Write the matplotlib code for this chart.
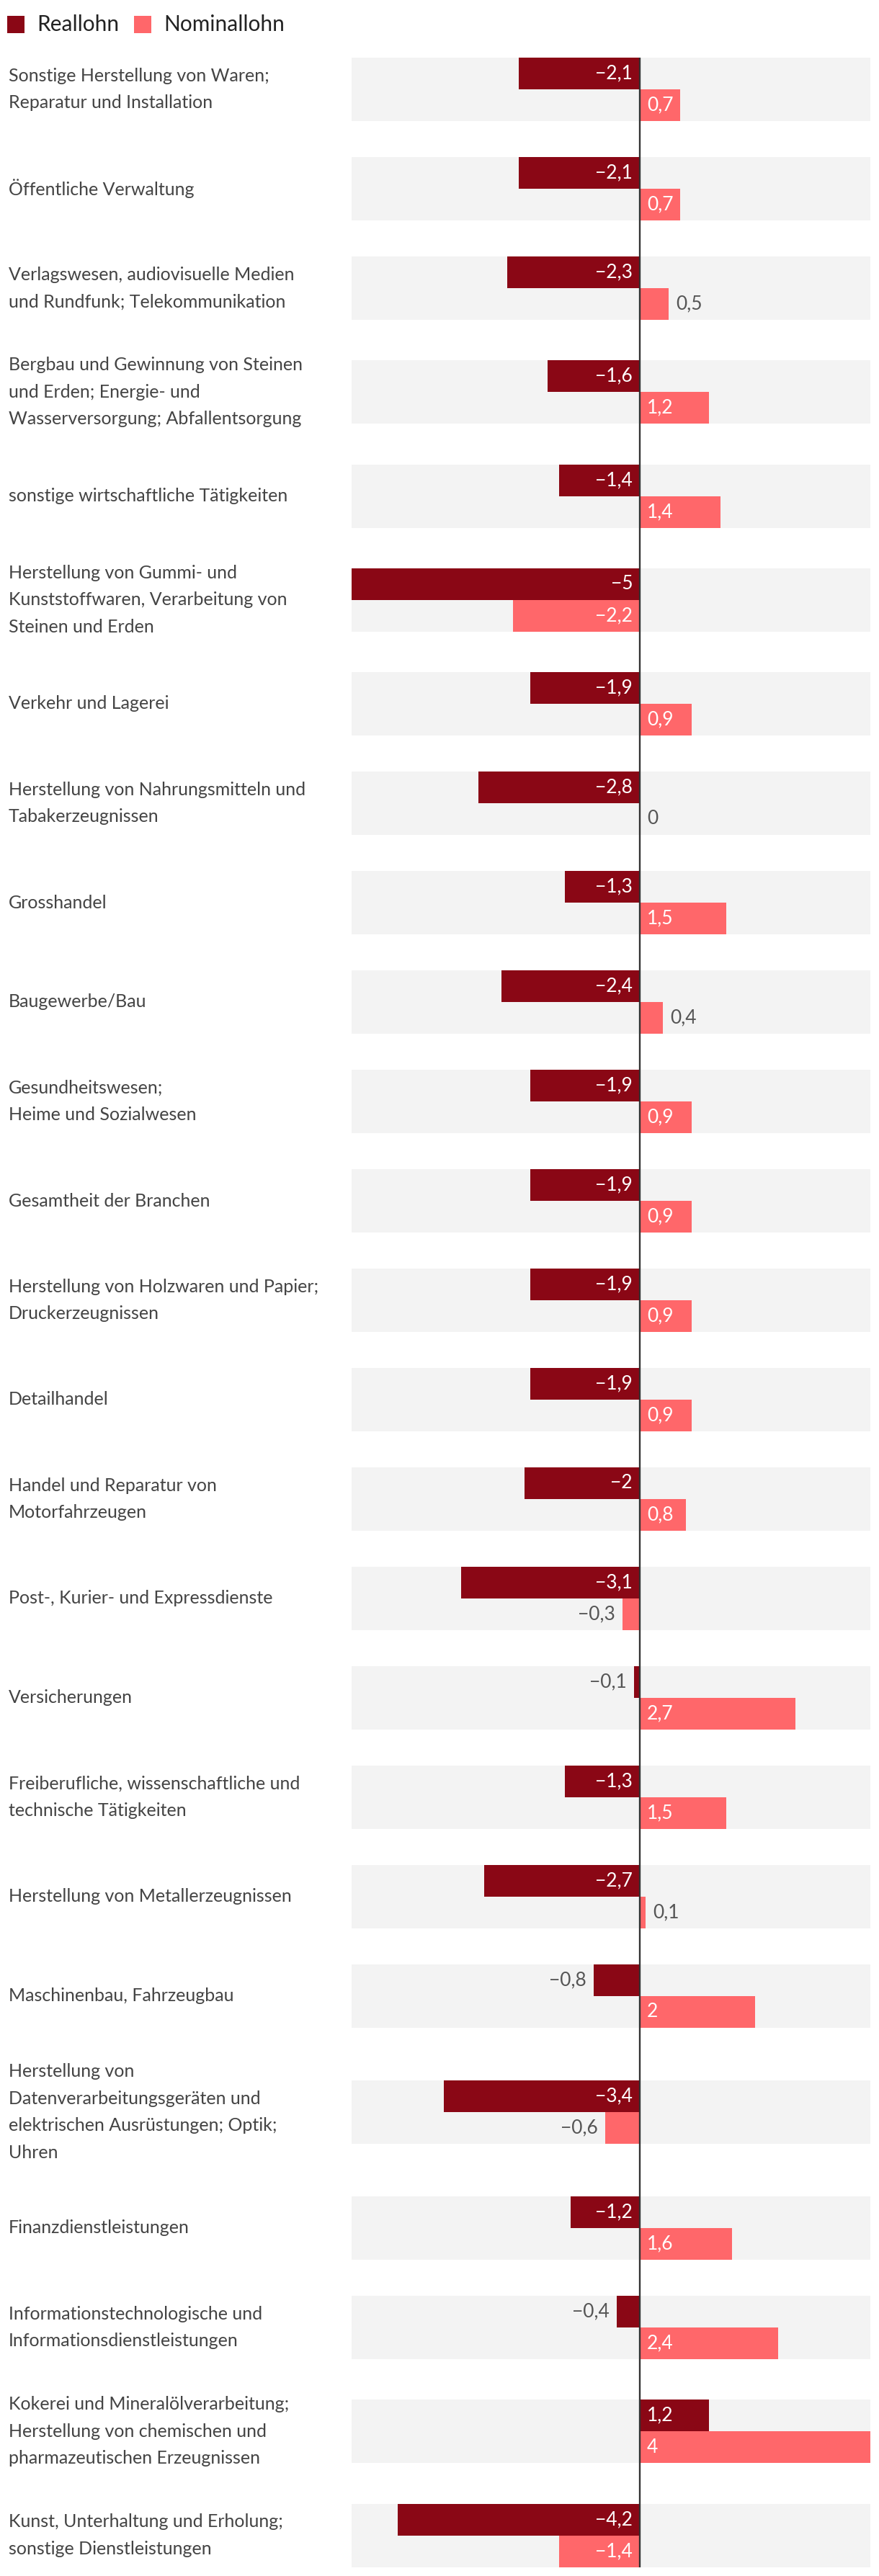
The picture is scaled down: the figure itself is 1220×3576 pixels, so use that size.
import matplotlib
matplotlib.use("Agg")
import matplotlib.pyplot as plt
from matplotlib.patches import Rectangle
from matplotlib.font_manager import FontProperties

# ---------------- data ----------------
categories = [
    "Sonstige Herstellung von Waren;\nReparatur und Installation",
    "Öffentliche Verwaltung",
    "Verlagswesen, audiovisuelle Medien\nund Rundfunk; Telekommunikation",
    "Bergbau und Gewinnung von Steinen\nund Erden; Energie- und\nWasserversorgung; Abfallentsorgung",
    "sonstige wirtschaftliche Tätigkeiten",
    "Herstellung von Gummi- und\nKunststoffwaren, Verarbeitung von\nSteinen und Erden",
    "Verkehr und Lagerei",
    "Herstellung von Nahrungsmitteln und\nTabakerzeugnissen",
    "Grosshandel",
    "Baugewerbe/Bau",
    "Gesundheitswesen;\nHeime und Sozialwesen",
    "Gesamtheit der Branchen",
    "Herstellung von Holzwaren und Papier;\nDruckerzeugnissen",
    "Detailhandel",
    "Handel und Reparatur von\nMotorfahrzeugen",
    "Post-, Kurier- und Expressdienste",
    "Versicherungen",
    "Freiberufliche, wissenschaftliche und\ntechnische Tätigkeiten",
    "Herstellung von Metallerzeugnissen",
    "Maschinenbau, Fahrzeugbau",
    "Herstellung von\nDatenverarbeitungsgeräten und\nelektrischen Ausrüstungen; Optik;\nUhren",
    "Finanzdienstleistungen",
    "Informationstechnologische und\nInformationsdienstleistungen",
    "Kokerei und Mineralölverarbeitung;\nHerstellung von chemischen und\npharmazeutischen Erzeugnissen",
    "Kunst, Unterhaltung und Erholung;\nsonstige Dienstleistungen",
]
reallohn = [-2.1, -2.1, -2.3, -1.6, -1.4, -5, -1.9, -2.8, -1.3, -2.4, -1.9, -1.9,
            -1.9, -1.9, -2, -3.1, -0.1, -1.3, -2.7, -0.8, -3.4, -1.2, -0.4, 1.2, -4.2]
nominallohn = [0.7, 0.7, 0.5, 1.2, 1.4, -2.2, 0.9, 0, 1.5, 0.4, 0.9, 0.9,
               0.9, 0.9, 0.8, -0.3, 2.7, 1.5, 0.1, 2, -0.6, 1.6, 2.4, 4, -1.4]
series_names = ["Reallohn", "Nominallohn"]
x_range = (-5, 4)

# ---------------- style ----------------
C_REAL = "#8a0715"
C_NOM = "#ff676a"
C_BAND = "#f3f3f3"
C_LABEL = "#444444"
C_VAL_OUT = "#555555"
C_LEG = "#222222"
C_ZERO = "#333333"
FONT = ["Lato", "DejaVu Sans"]
plt.rcParams["font.family"] = FONT

W, H, DPI = 1220, 3576, 100
fig = plt.figure(figsize=(W / DPI, H / DPI), dpi=DPI)
renderer = fig.canvas.get_renderer()

PLOT_L, PLOT_R = 488, 1208
ax = fig.add_axes([PLOT_L / W, 0, (PLOT_R - PLOT_L) / W, 1])
ax.set_xlim(*x_range)
ax.set_ylim(H, 0)
ax.axis("off")

LABEL_FS = 18
VAL_FS = 19
LEG_FS = 21.5

# layout (pixel units on the y axis)
TOP = 80
BAND = 88
GAP = 50
LINE_PX = 33.5
nlines = [c.count("\n") + 1 for c in categories]
blocks = [max(BAND, n * LINE_PX) for n in nlines]
centers = []
y = TOP + blocks[0] / 2
for i, b in enumerate(blocks):
    if i > 0:
        y += blocks[i - 1] / 2 + GAP + b / 2
    centers.append(y)

# line spacing so that line pitch == LINE_PX
fp = FontProperties(family=FONT, size=LABEL_FS)
_, lp_h, lp_d = renderer.get_text_width_height_descent("lp", fp, ismath=False)
linesp = LINE_PX / (lp_h - lp_d)

# background bands
ax.barh(centers, x_range[1] - x_range[0], left=x_range[0], height=BAND,
        color=C_BAND, linewidth=0, zorder=1)

half = BAND / 2
y_real = [c - half / 2 for c in centers]
y_nom = [c + half / 2 for c in centers]
ax.barh(y_real, reallohn, height=half, color=C_REAL, linewidth=0, zorder=2)
ax.barh(y_nom, nominallohn, height=half, color=C_NOM, linewidth=0, zorder=2)

# zero line
ax.vlines(0, centers[0] - half, centers[-1] + half, color=C_ZERO, lw=1.7, zorder=4)

# category labels
for lab, c in zip(categories, centers):
    fig.text(12 / W, 1 - c / H, lab, ha="left", va="center", fontsize=LABEL_FS,
             color=C_LABEL, linespacing=linesp)

# value labels
px_per_unit = ax.transData.transform((1, 0))[0] - ax.transData.transform((0, 0))[0]
PAD = 10 / px_per_unit


def fmt(v):
    s = f"{abs(v):g}".replace(".", ",")
    return ("\u2212" + s) if v < 0 else s


fpv = FontProperties(family=FONT, size=VAL_FS)
for vals, ys in ((reallohn, y_real), (nominallohn, y_nom)):
    for v, yy in zip(vals, ys):
        s = fmt(v)
        tw, _, _ = renderer.get_text_width_height_descent(s, fpv, ismath=False)
        bar_px = abs(v) * px_per_unit
        inside = (tw + 14) <= bar_px
        if inside:
            if v < 0:
                ax.text(-PAD, yy, s, ha="right", va="center", fontsize=VAL_FS, color="white", zorder=5)
            else:
                ax.text(PAD, yy, s, ha="left", va="center", fontsize=VAL_FS, color="white", zorder=5)
        else:
            if v < 0:
                ax.text(v - PAD, yy, s, ha="right", va="center", fontsize=VAL_FS, color=C_VAL_OUT, zorder=5)
            else:
                ax.text(v + PAD, yy, s, ha="left", va="center", fontsize=VAL_FS, color=C_VAL_OUT, zorder=5)

# legend
fpl = FontProperties(family=FONT, size=LEG_FS)
lx = 10
SQ = 24
leg_cy = 34
for name, col in zip(series_names, (C_REAL, C_NOM)):
    fig.patches.append(Rectangle((lx / W, 1 - (leg_cy + SQ / 2) / H), SQ / W, SQ / H,
                                 transform=fig.transFigure, color=col, linewidth=0))
    tx = lx + SQ + 17
    fig.text(tx / W, 1 - leg_cy / H, name, ha="left", va="center", fontsize=LEG_FS, color=C_LEG)
    tw, _, _ = renderer.get_text_width_height_descent(name, fpl, ismath=False)
    lx = tx + tw + 21

fig.savefig("out.png", dpi=DPI, facecolor="white")
